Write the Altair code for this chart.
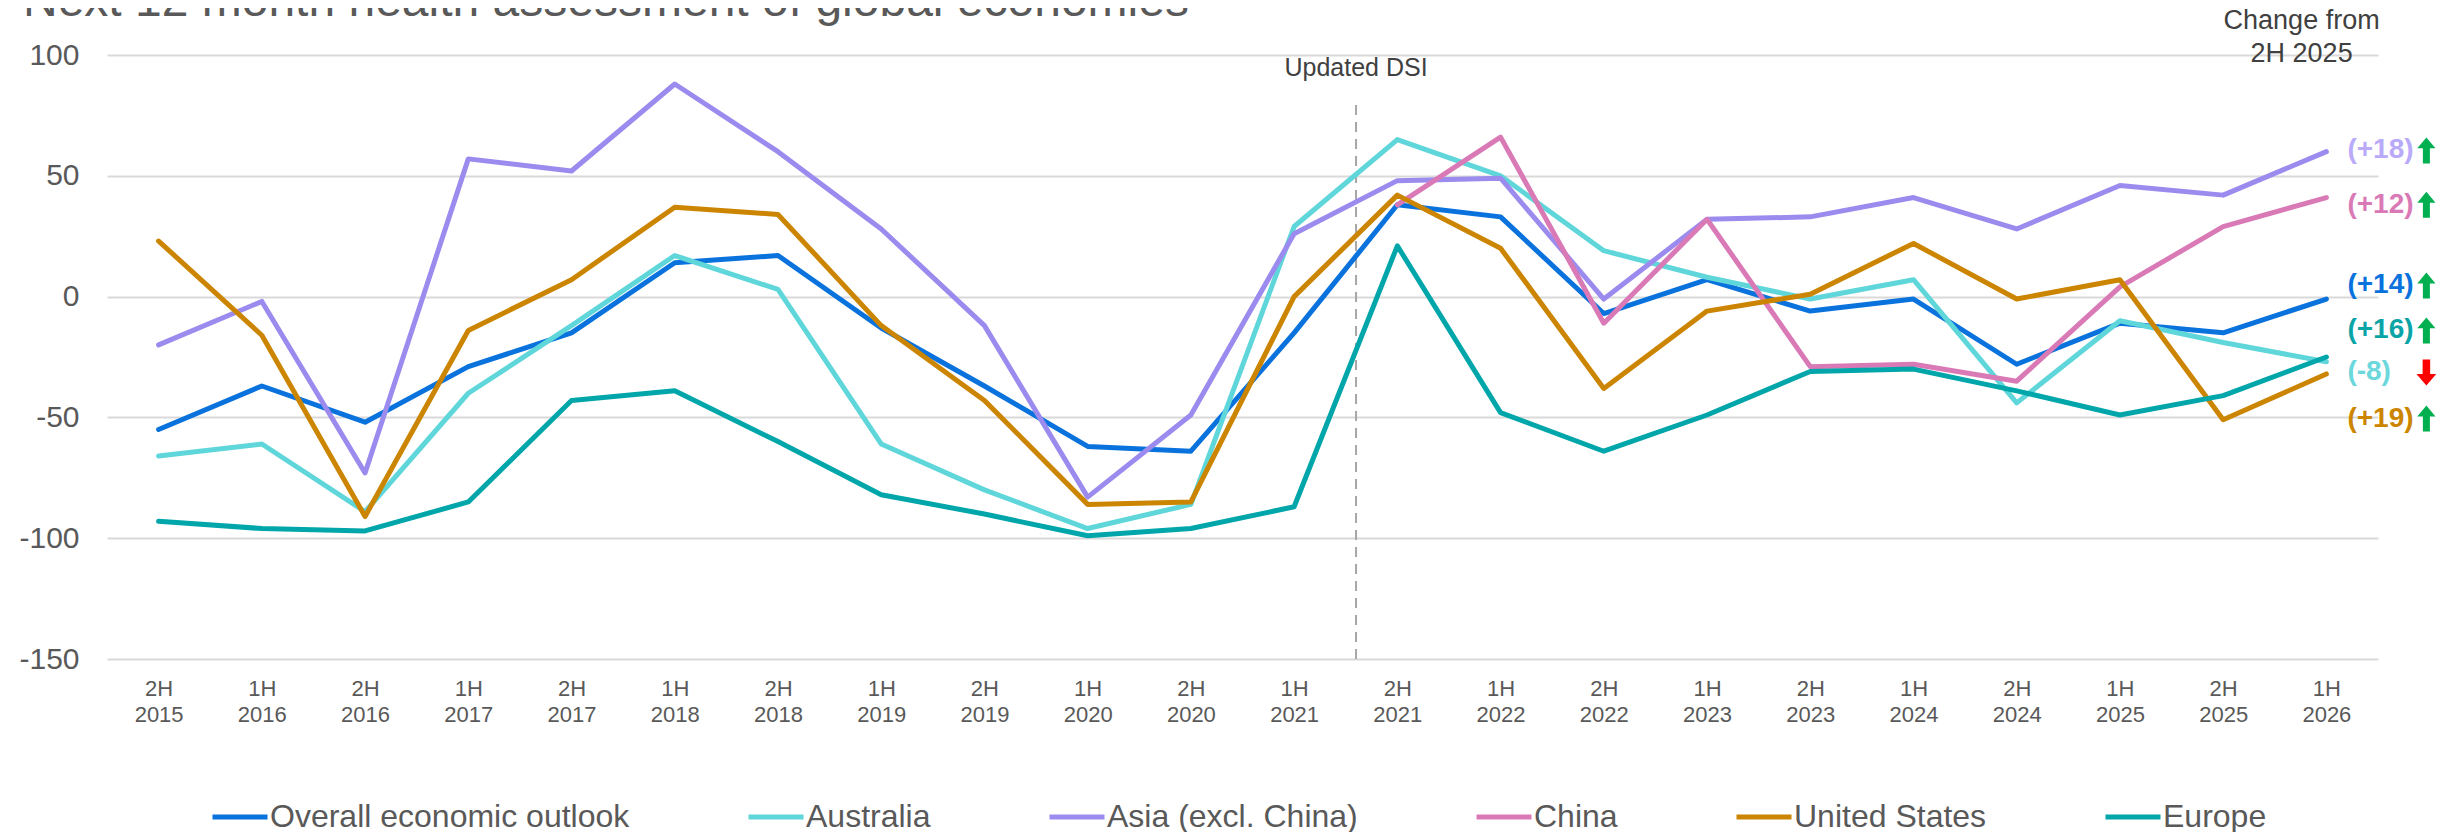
import json
import altair as alt
import pandas as pd

# ---------------- data ----------------
periods = ["2H|2015", "1H|2016", "2H|2016", "1H|2017", "2H|2017", "1H|2018",
           "2H|2018", "1H|2019", "2H|2019", "1H|2020", "2H|2020", "1H|2021",
           "2H|2021", "1H|2022", "2H|2022", "1H|2023", "2H|2023", "1H|2024",
           "2H|2024", "1H|2025", "2H|2025", "1H|2026"]

overall = [-55, -37, -52, -29, -15, 14, 17, -13, -37, -62, -64, -15,
           38, 33, -7, 7, -6, -1, -28, -11, -15, -1]
australia = [-66, -61, -89, -40, -12, 17, 3, -61, -80, -96, -86, 29,
             65, 50, 19, 8, -1, 7, -44, -10, -19, -27]
asia = [-20, -2, -73, 57, 52, 88, 60, 28, -12, -83, -49, 26,
        48, 49, -1, 32, 33, 41, 28, 46, 42, 60]
china = [None, None, None, None, None, None, None, None, None, None, None, None,
         38, 66, -11, 32, -29, -28, -35, 4, 29, 41]
united_states = [23, -16, -91, -14, 7, 37, 34, -12, -43, -86, -85, 0,
                 42, 20, -38, -6, 1, 22, -1, 7, -51, -32]
europe = [-93, -96, -97, -85, -43, -39, -60, -82, -90, -99, -96, -87,
          21, -48, -64, -49, -31, -30, -39, -49, -41, -25]

series_names = ["Overall economic outlook", "Australia", "Asia (excl. China)",
                "China", "United States", "Europe"]
series_values = [overall, australia, asia, china, united_states, europe]
line_colors = ["#0a72dc", "#5fd6da", "#9c8bee", "#d97ab7", "#cc8500", "#00a6a9"]

change_labels = ["(+14)", "(-8)", "(+18)", "(+12)", "(+19)", "(+16)"]
change_label_colors = ["#0a72dc", "#6cd8dc", "#b9aafa", "#d97ab7", "#cc8500", "#0aa4a7"]
change_direction = ["up", "down", "up", "up", "up", "up"]
# vertical anchor of each change label (in chart units), spread to avoid overlap
change_label_anchor = [4.6, -31.4, 60.5, 38, -50.5, -14]

title_text = "Next 12 month health assessment of global economies"
dsi_text = "Updated DSI"
change_header = "Change from\n2H 2025"

# ---------------- tables ----------------
rows = []
for name, vals in zip(series_names, series_values):
    for i, v in enumerate(vals):
        if v is not None:
            rows.append({"series": name, "idx": i, "value": v})
df = pd.DataFrame(rows)

arrow_paths = {
    "up": "M0,-1L0.7,-0.16L0.27,-0.16L0.27,1L-0.27,1L-0.27,-0.16L-0.7,-0.16Z",
    "down": "M0,1L0.76,0.12L0.29,0.12L0.29,-1L-0.29,-1L-0.29,0.12L-0.76,0.12Z",
}
arrow_colors = {"up": "#00b050", "down": "#ff0000"}
last_idx = len(periods) - 1
lab_df = pd.DataFrame({
    "series": series_names,
    "label": change_labels,
    "lcolor": change_label_colors,
    "anchor": change_label_anchor,
    "idx": [last_idx] * len(series_names),
    "shape": [arrow_paths[d] for d in change_direction],
    "acolor": [arrow_colors[d] for d in change_direction],
})

FONT = "Liberation Sans"
label_expr = "split(" + json.dumps(periods) + "[datum.value], '|')"

x_scale = alt.Scale(domain=[-0.5, len(periods) - 0.5], nice=False, zero=False)
y_scale = alt.Scale(domain=[-150, 100], nice=False, zero=False)

x_enc = alt.X("idx:Q", scale=x_scale,
              axis=alt.Axis(values=list(range(len(periods))), labelExpr=label_expr,
                            title=None, grid=False, domain=False, ticks=False,
                            labelFontSize=22, labelLineHeight=26, labelPadding=19,
                            labelColor="#595959", labelFont=FONT,
                            labelOverlap=False, labelFlush=False))
y_enc = alt.Y("value:Q", scale=y_scale,
              axis=alt.Axis(values=[-150, -100, -50, 0, 50, 100], title=None,
                            labelExpr="'' + datum.value",
                            grid=True, gridColor="#d9d9d9", gridWidth=2,
                            domain=False, ticks=False, labelFontSize=30,
                            labelPadding=28, labelColor="#595959", labelFont=FONT))

lines = alt.Chart(df).mark_line(strokeWidth=5, strokeJoin="round", strokeCap="round").encode(
    x=x_enc,
    y=y_enc,
    color=alt.Color("series:N",
                    scale=alt.Scale(domain=series_names, range=line_colors),
                    sort=series_names,
                    legend=alt.Legend(orient="none", legendX=103, legendY=732,
                                      direction="horizontal", columns=6, title=None,
                                      symbolType="stroke", symbolSize=3025,
                                      symbolStrokeWidth=5, labelFontSize=32,
                                      labelFont=FONT, labelColor="#595959",
                                      labelLimit=0,
                                      columnPadding=108, labelOffset=0)),
)

labels = alt.Chart(lab_df).mark_text(align="left", baseline="middle", dx=21,
                                     fontSize=28, fontWeight="bold", font=FONT).encode(
    x=alt.X("idx:Q", scale=x_scale),
    y=alt.Y("anchor:Q", scale=y_scale),
    text="label:N",
    color=alt.Color("lcolor:N", scale=None),
)

arrows = alt.Chart(lab_df).mark_point(filled=True, size=676, opacity=1, xOffset=100).encode(
    x=alt.X("idx:Q", scale=x_scale),
    y=alt.Y("anchor:Q", scale=y_scale),
    shape=alt.Shape("shape:N", scale=None),
    color=alt.Color("acolor:N", scale=None),
)

# "Updated DSI" marker between 1H 2021 and 2H 2021
dsi_df = pd.DataFrame({"idx": [11.6], "top": [79.3], "bottom": [-150], "ty": [91.3], "t": [dsi_text]})
dsi_rule = alt.Chart(dsi_df).mark_rule(color="#a6a6a6", strokeWidth=2, strokeDash=[10, 7]).encode(
    x=alt.X("idx:Q", scale=x_scale), y=alt.Y("top:Q", scale=y_scale), y2="bottom:Q")
dsi_label = alt.Chart(dsi_df).mark_text(align="center", baseline="alphabetic", fontSize=25,
                                        font=FONT, color="#404040").encode(
    x=alt.X("idx:Q", scale=x_scale), y=alt.Y("ty:Q", scale=y_scale), text="t:N")

head_df = pd.DataFrame({"idx": [20.76], "y": [110.8], "t": [change_header]})
header = alt.Chart(head_df).mark_text(align="center", baseline="alphabetic", fontSize=27,
                                      font=FONT, color="#404040", lineBreak="\n",
                                      lineHeight=33).encode(
    x=alt.X("idx:Q", scale=x_scale), y=alt.Y("y:Q", scale=y_scale), text="t:N")

title_df = pd.DataFrame({"idx": [-1.314], "y": [116.1], "t": [title_text]})
title = alt.Chart(title_df).mark_text(align="left", baseline="alphabetic", fontSize=48,
                                      font=FONT, color="#595959").encode(
    x=alt.X("idx:Q", scale=x_scale), y=alt.Y("y:Q", scale=y_scale), text="t:N")

chart = alt.layer(dsi_rule, lines, labels, arrows, dsi_label, header, title).properties(
    width=2271, height=604,
    padding={"left": 99, "top": 47, "right": 72, "bottom": 173},
    autosize=alt.AutoSizeParams(type="none"),
).configure(font=FONT).configure_view(stroke=None)

chart.save("out.html", embed_options={"renderer": "svg", "actions": False})
